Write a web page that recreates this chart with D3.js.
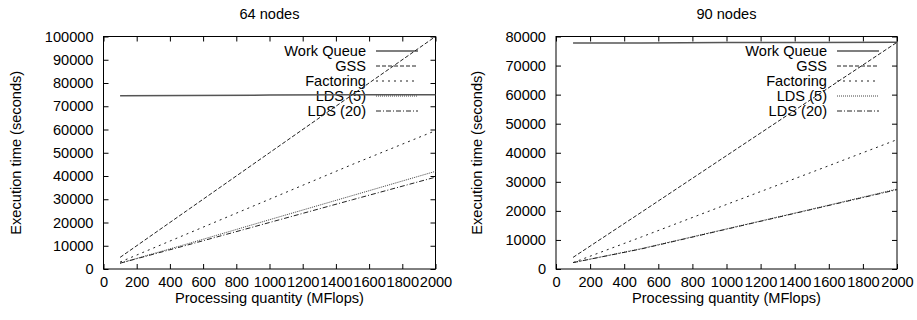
<!DOCTYPE html>
<html>
<head>
<meta charset="utf-8">
<script src="https://cdn.jsdelivr.net/npm/d3@7"></script>
<style>
  body { margin: 0; background: #fff; }
  svg { display: block; font-family: "Liberation Sans", Arial, sans-serif; }
</style>
</head>
<body>
<svg id="chart" width="917" height="320"></svg>
<script>
// processing quantity (MFlops)
const xValues = [100, 500, 1000, 1500, 2000];

const seriesNames = ["Work Queue", "GSS", "Factoring", "LDS (5)", "LDS (20)"];

// 64 nodes
const wq64 = [74500, 74600, 74800, 74900, 75000];
const gss64 = [5000, 25000, 50000, 75000, 100000];
const fact64 = [3000, 15000, 30000, 45000, 59500];
const lds5_64 = [2500, 10700, 21200, 31600, 42000];
const lds20_64 = [2500, 10200, 20000, 29800, 39500];

// 90 nodes
const wq90 = [77800, 77800, 77900, 77900, 78000];
const gss90 = [4000, 19500, 39000, 58500, 78000];
const fact90 = [2200, 11000, 22200, 33300, 44500];
const lds5_90 = [2200, 7000, 13800, 20600, 27500];
const lds20_90 = [2200, 6900, 13700, 20500, 27300];

const xTicks = [0, 200, 400, 600, 800, 1000, 1200, 1400, 1600, 1800, 2000];
const yTicks64 = [0, 10000, 20000, 30000, 40000, 50000, 60000, 70000, 80000, 90000, 100000];
const yTicks90 = [0, 10000, 20000, 30000, 40000, 50000, 60000, 70000, 80000];

// line styles, same order as seriesNames
const dashes = [null, "4,2", "2,4", "1,1", "5,2,1,2"];
const strokes = ["#555", "#222", "#222", "#444", "#222"];
const widths = [1.5, 1, 1, 1, 1];

const fs = 14.6;
const svg = d3.select("#chart");

function drawPanel(opts) {
  const { left, right, top, bottom, title, yMax, yTicks, series, legendX, ylabelX } = opts;
  const x = d3.scaleLinear().domain([0, 2000]).range([left, right]);
  const y = d3.scaleLinear().domain([0, yMax]).range([bottom, top]);
  const g = svg.append("g");

  // frame
  g.append("rect")
    .attr("x", left).attr("y", top)
    .attr("width", right - left).attr("height", bottom - top)
    .attr("fill", "none").attr("stroke", "#000").attr("stroke-width", 1);

  // bottom axis (ticks inward) + top mirror
  const bx = g.append("g").attr("transform", `translate(0,${bottom})`)
    .call(d3.axisBottom(x).tickValues(xTicks).tickSize(-5).tickPadding(8).tickFormat(d3.format("d")));
  const tx = g.append("g").attr("transform", `translate(0,${top})`)
    .call(d3.axisTop(x).tickValues(xTicks).tickSize(-5).tickFormat(""));
  const ly = g.append("g").attr("transform", `translate(${left},0)`)
    .call(d3.axisLeft(y).tickValues(yTicks).tickSize(-5).tickPadding(10).tickFormat(d3.format("d")));
  const ry = g.append("g").attr("transform", `translate(${right},0)`)
    .call(d3.axisRight(y).tickValues(yTicks).tickSize(-5).tickFormat(""));
  [bx, tx, ly, ry].forEach(a => {
    a.select(".domain").remove();
    a.selectAll("line").attr("stroke", "#000");
    a.selectAll("text").attr("font-size", fs).attr("fill", "#000")
      .attr("font-family", "Liberation Sans, Arial, sans-serif");
  });

  // title
  g.append("text")
    .attr("x", (left + right) / 2).attr("y", 19)
    .attr("text-anchor", "middle").attr("font-size", fs)
    .text(title);

  // axis labels
  g.append("text")
    .attr("x", (left + right) / 2).attr("y", 303)
    .attr("text-anchor", "middle").attr("font-size", fs)
    .text("Processing quantity (MFlops)");
  g.append("text")
    .attr("transform", `translate(${ylabelX},${(top + bottom) / 2}) rotate(-90)`)
    .attr("text-anchor", "middle").attr("dy", "0.35em").attr("font-size", fs)
    .text("Execution time (seconds)");

  // legend
  const rowY = [51, 66, 81, 96, 111];
  seriesNames.forEach((name, i) => {
    g.append("text")
      .attr("x", legendX).attr("y", rowY[i])
      .attr("dy", "0.35em").attr("text-anchor", "end").attr("font-size", fs)
      .text(name);
    g.append("line")
      .attr("x1", legendX + 10).attr("x2", legendX + 52)
      .attr("y1", rowY[i]).attr("y2", rowY[i])
      .attr("stroke", strokes[i]).attr("stroke-width", widths[i])
      .attr("stroke-dasharray", dashes[i]);
  });

  // series lines
  const line = d3.line().x((d, i) => x(xValues[i])).y(d => y(d));
  series.forEach((vals, i) => {
    g.append("path")
      .datum(vals)
      .attr("d", line)
      .attr("fill", "none")
      .attr("stroke", strokes[i]).attr("stroke-width", widths[i])
      .attr("stroke-dasharray", dashes[i]);
  });
}

drawPanel({
  left: 103.5, right: 435.5, top: 36.5, bottom: 269,
  title: "64 nodes", yMax: 100000, yTicks: yTicks64,
  series: [wq64, gss64, fact64, lds5_64, lds20_64],
  legendX: 366, ylabelX: 16
});

drawPanel({
  left: 556, right: 897, top: 36.5, bottom: 269,
  title: "90 nodes", yMax: 80000, yTicks: yTicks90,
  series: [wq90, gss90, fact90, lds5_90, lds20_90],
  legendX: 827, ylabelX: 477
});
</script>
</body>
</html>
